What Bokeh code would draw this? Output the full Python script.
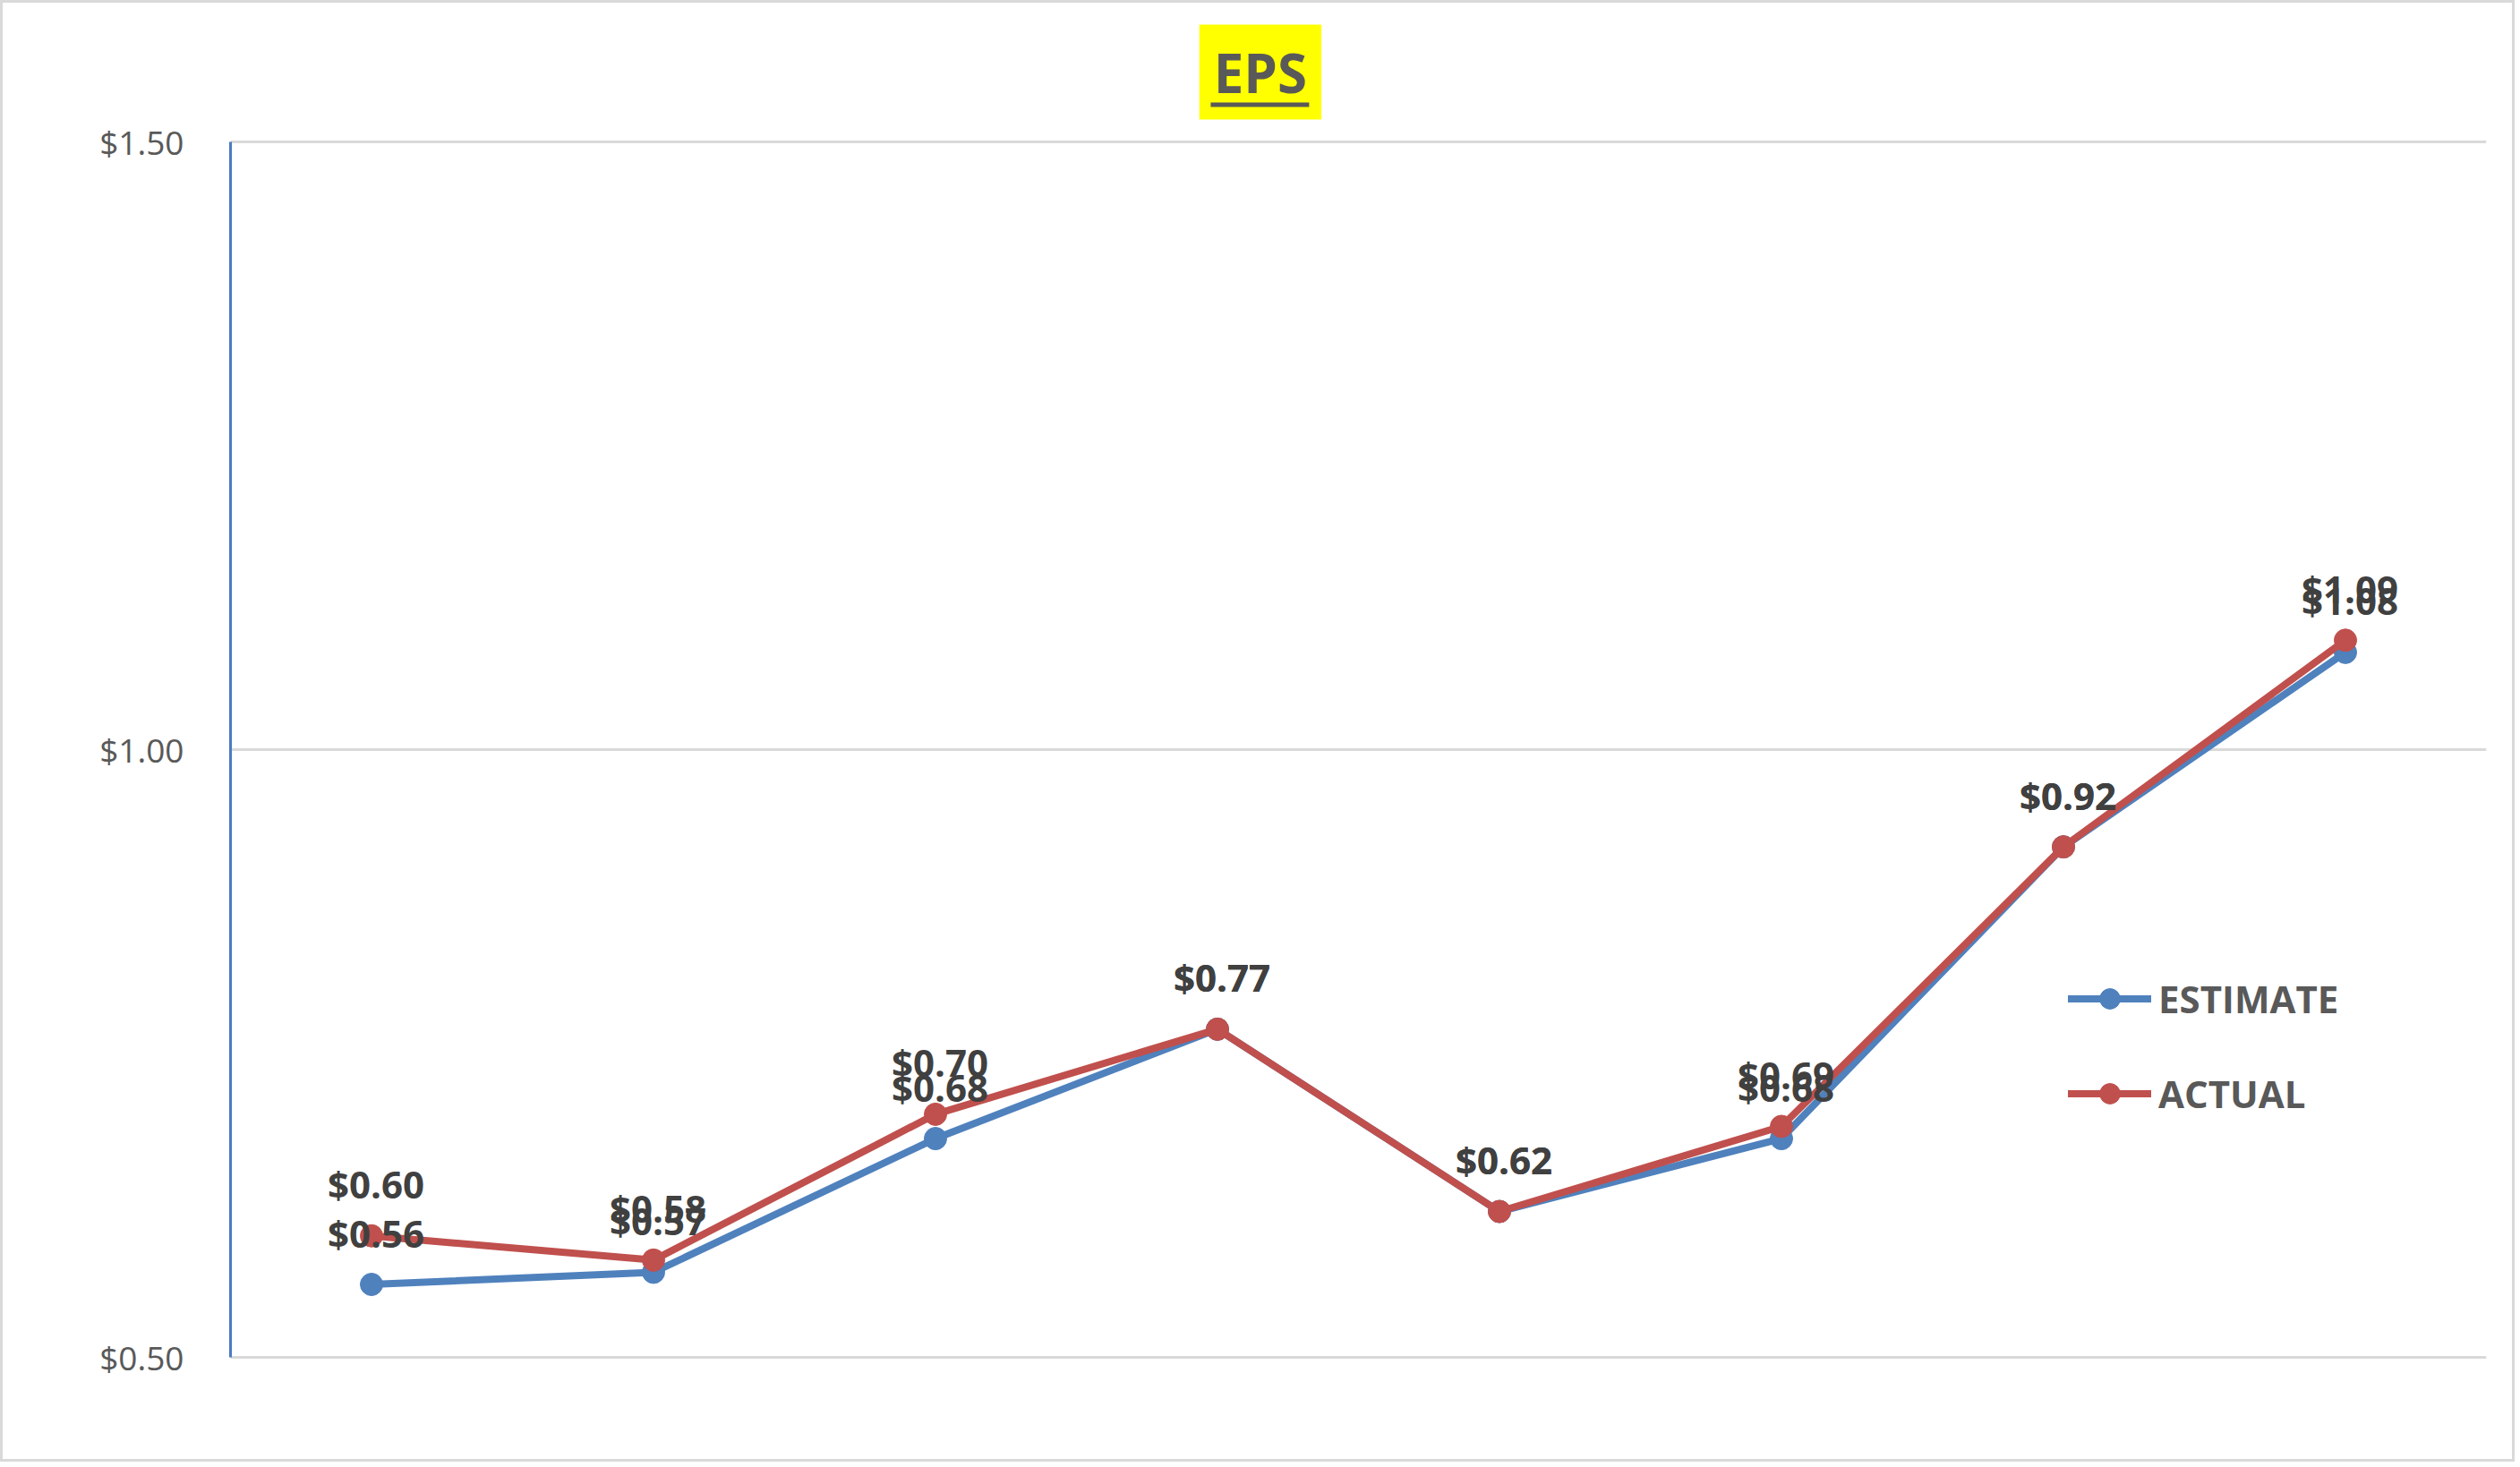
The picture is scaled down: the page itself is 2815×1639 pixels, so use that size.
from bokeh.plotting import figure
from bokeh.models import (ColumnDataSource, Range1d, FixedTicker, NumeralTickFormatter,
                          LabelSet, Label, Legend, LegendItem, BoxAnnotation)
from bokeh.core.properties import value
from bokeh.embed import file_html
from bokeh.resources import INLINE

# ---- data ----
periods = ["P1", "P2", "P3", "P4", "P5", "P6", "P7", "P8"]
estimate = [0.56, 0.57, 0.68, 0.77, 0.62, 0.68, 0.92, 1.08]
actual = [0.60, 0.58, 0.70, 0.77, 0.62, 0.69, 0.92, 1.09]
y_ticks = [0.50, 1.00, 1.50]
title_text = "EPS"

BLUE = "#4F81BD"
RED = "#C0504D"
FONT = "Open Sans"

W, H = 2809, 1633
PAD_TOP, PAD_BOTTOM = 155, 120          # pixels above $1.50 / below $0.50
PLOT_H = H - PAD_TOP - PAD_BOTTOM
ppu = PLOT_H / (y_ticks[-1] - y_ticks[0])
y_lo = y_ticks[0] - PAD_BOTTOM / ppu
y_hi = y_ticks[-1] + PAD_TOP / ppu

xs = list(range(len(periods)))
src_e = ColumnDataSource(dict(x=xs, y=estimate, lbl=[f"${v:.2f}" for v in estimate]))
src_a = ColumnDataSource(dict(x=xs, y=actual, lbl=[f"${v:.2f}" for v in actual]))

p = figure(width=W, height=H, output_backend="svg", toolbar_location=None,
           x_range=Range1d(-0.5, len(periods) - 0.5), y_range=Range1d(y_lo, y_hi),
           min_border_left=254, min_border_right=35, min_border_top=0, min_border_bottom=0)
p.styles = {"border": "3px solid #D9D9D9"}
p.outline_line_color = None
p.background_fill_color = "white"
p.border_fill_color = "white"

p.xaxis.visible = False
p.xgrid.visible = False
p.ygrid.grid_line_color = "#D9D9D9"
p.ygrid.grid_line_width = 3
p.yaxis.ticker = FixedTicker(ticks=y_ticks)
p.yaxis.bounds = (y_ticks[0], y_ticks[-1])
p.yaxis.formatter = NumeralTickFormatter(format="$0.00")
p.yaxis.axis_line_color = "#4A7BC4"
p.yaxis.axis_line_width = 3
p.yaxis.major_tick_line_color = None
p.yaxis.minor_tick_line_color = None
p.yaxis.major_label_text_font = FONT
p.yaxis.major_label_text_font_size = "37px"
p.yaxis.major_label_text_color = "#595959"
p.yaxis.major_label_standoff = 46

le = p.line("x", "y", source=src_e, line_color=BLUE, line_width=8, line_cap="round", line_join="round")
se = p.scatter("x", "y", source=src_e, size=25, fill_color=BLUE, line_color=BLUE)
la = p.line("x", "y", source=src_a, line_color=RED, line_width=8, line_cap="round", line_join="round")
sa = p.scatter("x", "y", source=src_a, size=25, fill_color=RED, line_color=RED)

for src in (src_e, src_a):
    p.add_layout(LabelSet(x="x", y="y", text="lbl", source=src, x_offset=5, y_offset=58,
                          text_align="center", text_baseline="middle",
                          text_font=value(FONT), text_font_style="bold", text_font_size="42px",
                          text_color="#404040"))

legend = Legend(items=[LegendItem(label="ESTIMATE", renderers=[le, se]),
                       LegendItem(label="ACTUAL", renderers=[la, sa])],
                location=(2053, 266 + PAD_BOTTOM), orientation="vertical",
                glyph_width=93, glyph_height=57, label_height=57, label_standoff=8,
                spacing=49, padding=0, margin=0,
                border_line_color=None, background_fill_alpha=0,
                label_text_font=FONT, label_text_font_style="bold",
                label_text_font_size="42px", label_text_color="#595959")
p.add_layout(legend, "center")

# title with yellow highlight and underline
title = Label(x=3.152, y=y_ticks[-1], y_offset=78, text=title_text, text_align="center",
              text_baseline="middle", text_font=FONT, text_font_style="bold",
              text_font_size="60px", text_color="#595959",
              background_fill_color="#FFFF00", padding=(16, 12))
p.add_layout(title)
underline = BoxAnnotation(left=2.976, right=3.325,
                          top=y_ticks[-1] + 44 / ppu, bottom=y_ticks[-1] + 39 / ppu,
                          fill_color="#595959", fill_alpha=1, line_color=None)
p.add_layout(underline)

open("out.html", "w").write(file_html(p, INLINE))
